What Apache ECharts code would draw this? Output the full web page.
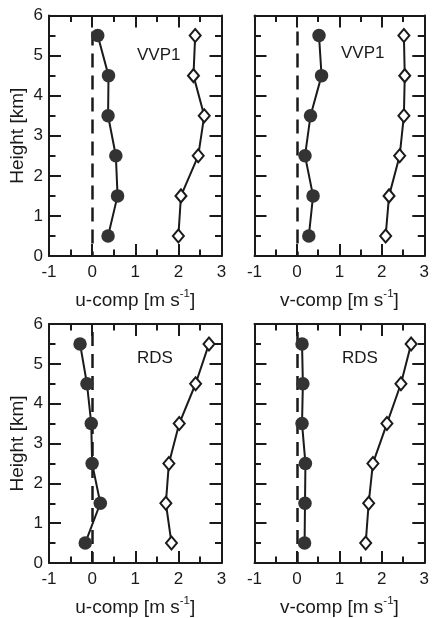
<!DOCTYPE html>
<html><head><meta charset="utf-8">
<script src="https://cdn.jsdelivr.net/npm/echarts@6/dist/echarts.min.js"></script>
<style>html,body{margin:0;padding:0;background:#fff;}#c{width:432px;height:618px;}</style>
</head><body><div id="c"></div>
<script>
// ---- data ----
const heights = [0.5, 1.5, 2.5, 3.5, 4.5, 5.5];
const vvpUMean = [0.37, 0.59, 0.55, 0.37, 0.38, 0.13];
const vvpUStd  = [2.00, 2.06, 2.46, 2.60, 2.35, 2.39];
const vvpVMean = [0.28, 0.38, 0.19, 0.32, 0.58, 0.52];
const vvpVStd  = [2.09, 2.17, 2.42, 2.52, 2.54, 2.52];
const rdsUMean = [-0.16, 0.19, 0.00, -0.02, -0.12, -0.28];
const rdsUStd  = [1.84, 1.71, 1.78, 2.02, 2.40, 2.71];
const rdsVMean = [0.18, 0.19, 0.20, 0.12, 0.14, 0.12];
const rdsVStd  = [1.62, 1.69, 1.79, 2.12, 2.45, 2.69];
const panelLabels = ['VVP1', 'VVP1', 'RDS', 'RDS'];
const xNames = ['u-comp', 'v-comp', 'u-comp', 'v-comp'];
const yName = 'Height [km]';
const xRange = [-1, 3];
const yRange = [0, 6];
const zeroLineTop = [5.6, 5.6, 5.8, 5.8];

const meanSets = [vvpUMean, vvpVMean, rdsUMean, rdsVMean];
const stdSets = [vvpUStd, vvpVStd, rdsUStd, rdsVStd];

// ---- layout ----
const FONT = "'Liberation Sans', Arial, Helvetica, sans-serif";
const INK = '#1a1a1a';
const grids = [
  {left: 49, top: 15.5, width: 172.5, height: 240.5},
  {left: 254.5, top: 15.5, width: 172.5, height: 240.5},
  {left: 49, top: 324, width: 172.5, height: 240.5},
  {left: 254.5, top: 324, width: 172.5, height: 240.5}
];
const labelPos = [[137, 47], [341, 45], [137, 350], [342, 350]];

const axisLine = {show: true, onZero: false, lineStyle: {color: INK, width: 2}};
const axisTick = {show: true, inside: true, length: 12, lineStyle: {color: INK, width: 2}};
const minorTick = {show: true, splitNumber: 2, length: 6.5, lineStyle: {color: INK, width: 2}};

const xAxes = [], yAxes = [], series = [], titles = [];
for (let i = 0; i < 4; i++) {
  const leftPanel = (i % 2 === 0);
  xAxes.push({
    gridIndex: i, type: 'value', position: 'bottom', min: xRange[0], max: xRange[1], interval: 1,
    axisLine, axisTick, minorTick, splitLine: {show: false},
    axisLabel: {fontSize: 17, fontFamily: FONT, color: INK, margin: 8},
    name: '{t|' + xNames[i] + ' [m s}{s|-1}{t|]}', nameLocation: 'middle', nameGap: 32,
    nameTextStyle: {rich: {
      t: {fontSize: 19, fontFamily: FONT, color: INK, lineHeight: 19, padding: [6, 0, 0, 0]},
      s: {fontSize: 11.5, fontFamily: FONT, color: INK, lineHeight: 12, verticalAlign: 'top'}
    }}
  });
  xAxes.push({
    gridIndex: i, type: 'value', position: 'top', min: xRange[0], max: xRange[1], interval: 1,
    axisLine, axisTick, minorTick, splitLine: {show: false}, axisLabel: {show: false}
  });
  yAxes.push({
    gridIndex: i, type: 'value', position: 'left', min: yRange[0], max: yRange[1], interval: 1,
    axisLine, axisTick, minorTick, splitLine: {show: false},
    axisLabel: {show: leftPanel, fontSize: 17, fontFamily: FONT, color: INK, margin: 6},
    name: leftPanel ? yName : '', nameLocation: 'middle', nameGap: 22,
    nameTextStyle: {fontSize: 19, fontFamily: FONT, color: INK}
  });
  yAxes.push({
    gridIndex: i, type: 'value', position: 'right', min: yRange[0], max: yRange[1], interval: 1,
    axisLine, axisTick, minorTick, splitLine: {show: false}, axisLabel: {show: false}
  });

  series.push({
    type: 'line', xAxisIndex: 2 * i, yAxisIndex: 2 * i, z: 5,
    data: meanSets[i].map((v, k) => [v, heights[k]]),
    symbol: 'circle', symbolSize: 13.5,
    itemStyle: {color: '#333333', borderWidth: 0},
    lineStyle: {color: INK, width: 2},
    markLine: {
      silent: true, symbol: 'none', label: {show: false},
      lineStyle: {color: INK, width: 2.5, type: [14, 8]},
      data: [[{coord: [0, zeroLineTop[i]]}, {coord: [0, yRange[0]]}]]
    },
    animation: false
  });
  series.push({
    type: 'line', xAxisIndex: 2 * i, yAxisIndex: 2 * i, z: 5,
    data: stdSets[i].map((v, k) => [v, heights[k]]),
    symbol: 'diamond', symbolSize: [11, 13], showAllSymbol: true,
    itemStyle: {color: '#ffffff', borderColor: INK, borderWidth: 2},
    lineStyle: {color: INK, width: 2},
    animation: false
  });
  titles.push({
    text: panelLabels[i], left: labelPos[i][0], top: labelPos[i][1],
    textStyle: {fontSize: 17, fontWeight: 'normal', fontFamily: FONT, color: INK}, padding: 0
  });
}

const chart = echarts.init(document.getElementById('c'), null, {renderer: 'canvas'});
chart.setOption({
  animation: false,
  backgroundColor: '#ffffff',
  title: titles,
  grid: grids,
  xAxis: xAxes,
  yAxis: yAxes,
  series: series
});
</script>
</body></html>
